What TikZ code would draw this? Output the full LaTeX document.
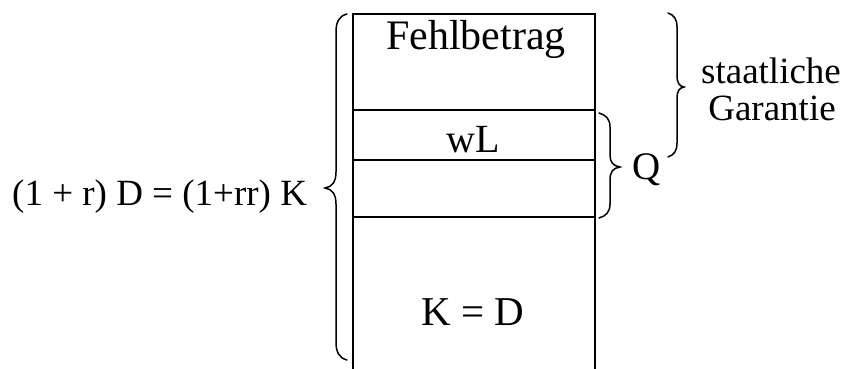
\documentclass[tikz,border=0pt]{standalone}
\usepackage{fontspec}
\setmainfont{Liberation Serif}
\begin{document}
\begin{tikzpicture}[x=1pt,y=-1pt,
  boxline/.style={line width=2.4pt},
  bracestroke/.style={line width=1.5pt, line cap=round},
  lbl/.style={inner sep=0pt, anchor=base},
]
\useasboundingbox (0,0) rectangle (843,369);
% box
\coordinate (tl) at (353,14);
\coordinate (tr) at (595,14);
\coordinate (bl) at (353,372);
\coordinate (br) at (595,372);
\draw[boxline] (bl) -- (tl) -- (tr) -- (br);
\coordinate (d1l) at (353,110); \coordinate (d1r) at (595,110);
\coordinate (d2l) at (353,160); \coordinate (d2r) at (595,160);
\coordinate (d3l) at (353,217); \coordinate (d3r) at (595,217);
\draw[boxline] (d1l) -- (d1r);
\draw[boxline] (d2l) -- (d2r);
\draw[boxline] (d3l) -- (d3r);
% texts
\node[lbl, font=\fontsize{42}{48}\selectfont] (fb) at (476,50) {Fehlbetrag};
\node[lbl, font=\fontsize{40}{46}\selectfont] (wl) at (473,152) {wL};
\node[lbl, font=\fontsize{41}{46}\selectfont] (kd) at (473,325) {K = D};
\node[inner sep=0pt, anchor=base west, font=\fontsize{37}{42}\selectfont] (eq) at (12,205) {(1 + r) D = (1+rr) K};
\node[lbl, font=\fontsize{39}{46}\selectfont] (q) at (647,179) {Q};
\node[lbl, font=\fontsize{37}{42}\selectfont] (st) at (771,84) {staatliche};
\node[lbl, font=\fontsize{37}{42}\selectfont] (ga) at (772,120) {Garantie};
% left brace (tip left)
\draw[bracestroke] (347,14) .. controls (339,16) and (336,22) .. (336,32)
  -- (336,172) .. controls (336,182) and (332,187) .. (325,188)
  .. controls (332,189) and (336,194) .. (336,204)
  -- (336,342) .. controls (336,352) and (339,358) .. (347,360);
% Q brace (tip right)
\draw[bracestroke] (599,113) .. controls (606,115) and (610,119) .. (610,127)
  -- (610,155) .. controls (610,162) and (613,166) .. (620,167)
  .. controls (613,168) and (610,172) .. (610,180)
  -- (610,204) .. controls (610,212) and (606,216) .. (599,218);
% staatliche brace (tip right)
\draw[bracestroke] (668,13) .. controls (674,15) and (677,19) .. (677,27)
  -- (677,75) .. controls (677,83) and (679,86) .. (684,87)
  .. controls (679,88) and (677,91) .. (677,99)
  -- (677,143) .. controls (677,151) and (674,155) .. (668,157);
\end{tikzpicture}
\end{document}
